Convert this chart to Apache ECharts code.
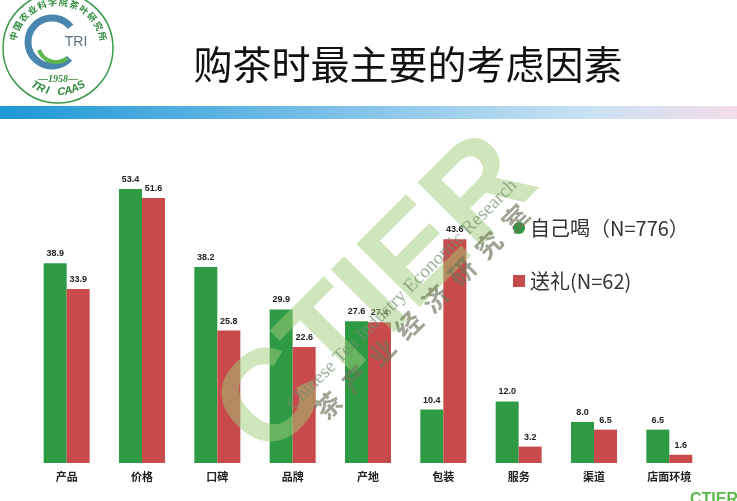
<!DOCTYPE html>
<html>
<head>
<meta charset="utf-8">
<script src="https://cdn.jsdelivr.net/npm/echarts@6/dist/echarts.min.js"></script>
<style>
  html, body { margin: 0; padding: 0; background: #fff; }
  #chart { width: 737px; height: 501px; }
</style>
</head>
<body>
<div id="chart"></div>
<script>
// 数据
var categories = ['产品', '价格', '口碑', '品牌', '产地', '包装', '服务', '渠道', '店面环境'];
var selfDrink = [38.9, 53.4, 38.2, 29.9, 27.6, 10.4, 12.0, 8.0, 6.5];
var gift = [33.9, 51.6, 25.8, 22.6, 27.4, 43.6, 3.2, 6.5, 1.6];
var seriesNames = ['自己喝（N=776）', '送礼(N=62)'];

var CJK = '"Noto Sans CJK SC", "Noto Sans", sans-serif';
var GREEN = '#2e9a44';
var RED = '#c94a4b';

// 左上角的院标
function logo() {
  var cx = 58, cy = 48;
  var items = [
    { type: 'circle', shape: { cx: cx, cy: cy, r: 55 }, style: { fill: '#fff', stroke: '#3a9a4a', lineWidth: 1.5 } },
    { type: 'arc', shape: { cx: cx - 6, cy: cy - 6, r: 24, startAngle: 0.75, endAngle: 5.6, clockwise: true },
      style: { stroke: '#4a87b0', lineWidth: 7, fill: null } },
    { type: 'arc', shape: { cx: cx - 2, cy: cy - 4, r: 18, startAngle: 0.9, endAngle: 2.8, clockwise: true },
      style: { stroke: '#5cb84a', lineWidth: 4, fill: null } },
    { type: 'text', style: { text: 'TRI', x: 76, y: 42, fill: '#5a6f86', font: '14px "Liberation Sans", sans-serif', align: 'center', verticalAlign: 'middle' } },
    { type: 'text', style: { text: '—1958—', x: cx, y: 79, fill: '#2f8a3e', font: 'italic bold 10px "Liberation Serif", serif', align: 'center', verticalAlign: 'middle' } }
  ];
  var top = '中国农业科学院茶叶研究所'.split('');
  top.forEach(function (ch, i) {
    var a = (195 + i * (150 / (top.length - 1))) * Math.PI / 180;
    items.push({
      type: 'text', x: cx + 46 * Math.cos(a), y: cy + 46 * Math.sin(a),
      rotation: -(a - 1.5 * Math.PI),
      style: { text: ch, x: 0, y: 0, fill: '#2f8a3e', font: 'bold 9px ' + CJK, align: 'center', verticalAlign: 'middle' }
    });
  });
  var bottom = 'TRI CAAS'.split('');
  bottom.forEach(function (ch, i) {
    var a = (122 - i * (64 / (bottom.length - 1))) * Math.PI / 180;
    items.push({
      type: 'text', x: cx + 44 * Math.cos(a), y: cy + 44 * Math.sin(a),
      rotation: -(a - 0.5 * Math.PI),
      style: { text: ch, x: 0, y: 0, fill: '#2f8a3e', font: 'bold italic 11px "Liberation Sans", sans-serif', align: 'center', verticalAlign: 'middle' }
    });
  });
  return items;
}

// 水印
function watermark() {
  var rot = 45 * Math.PI / 180;
  return [
    { type: 'text', x: 378, y: 298, rotation: rot, silent: true, z: 50,
      style: { text: 'CTIER', x: 0, y: 0, align: 'center', verticalAlign: 'middle', opacity: 0.5,
        font: 'bold 130px "Liberation Sans", sans-serif', fill: '#9fcb78' } },
    { type: 'text', x: 402, y: 295, rotation: rot, silent: true, z: 51,
      style: { text: 'Chinese Tea Industry Economic Research', x: 0, y: 0, align: 'center', verticalAlign: 'middle',
        opacity: 0.7, fill: '#6f8f70', font: '19px "Liberation Serif", serif' } },
    { type: 'text', x: 422, y: 312, rotation: rot, silent: true, z: 51,
      style: { text: '茶  产  业  经  济  研  究  室', x: 0, y: 0, align: 'center', verticalAlign: 'middle',
        opacity: 0.65, fill: '#6b7458', font: 'bold 26px ' + CJK } }
  ];
}

var chart = echarts.init(document.getElementById('chart'));

var option = {
  backgroundColor: '#fff',
  animation: false,
  graphic: logo().concat([
    { type: 'text', style: { text: '购茶时最主要的考虑因素', x: 408, y: 64, align: 'center', verticalAlign: 'middle',
      fill: '#111', font: '39px ' + CJK } },
    { type: 'rect', shape: { x: 0, y: 106, width: 737, height: 13 },
      style: { fill: new echarts.graphic.LinearGradient(0, 0, 1, 0, [
        { offset: 0, color: '#1e98d6' }, { offset: 0.45, color: '#7cc0e8' },
        { offset: 0.8, color: '#c9e2f3' }, { offset: 1, color: '#f4dcea' }]) } },
    { type: 'text', style: { text: 'CTIER', x: 690, y: 492, fill: '#5cb84a', font: 'bold 16px "Liberation Sans", sans-serif' } }
  ]).concat(watermark()),
  legend: {
    orient: 'vertical',
    left: 508,
    top: 213,
    itemGap: 33,
    itemWidth: 12,
    itemHeight: 12,
    textStyle: { fontSize: 20, color: '#333', fontFamily: CJK },
    data: [
      { name: seriesNames[0], icon: 'circle' },
      { name: seriesNames[1], icon: 'rect' }
    ]
  },
  grid: { left: 29, right: 30, top: 155, bottom: 38 },
  xAxis: {
    type: 'category',
    data: categories,
    axisLine: { show: false },
    axisTick: { show: false },
    axisLabel: { color: '#222', fontSize: 11, fontWeight: 'bold', fontFamily: CJK, margin: 8, interval: 0 }
  },
  yAxis: { type: 'value', min: 0, max: 60, show: false },
  series: [
    {
      name: seriesNames[0],
      type: 'bar',
      data: selfDrink,
      barWidth: 23,
      barGap: '0%',
      itemStyle: { color: GREEN },
      label: { show: true, position: 'top', distance: 5, color: '#222', fontSize: 9, fontWeight: 'bold',
        fontFamily: '"Liberation Sans", sans-serif', formatter: function (p) { return p.value.toFixed(1); } }
    },
    {
      name: seriesNames[1],
      type: 'bar',
      data: gift,
      barWidth: 23,
      itemStyle: { color: RED },
      label: { show: true, position: 'top', distance: 5, color: '#222', fontSize: 9, fontWeight: 'bold',
        fontFamily: '"Liberation Sans", sans-serif', formatter: function (p) { return p.value.toFixed(1); } }
    }
  ]
};

chart.setOption(option);
</script>
</body>
</html>
